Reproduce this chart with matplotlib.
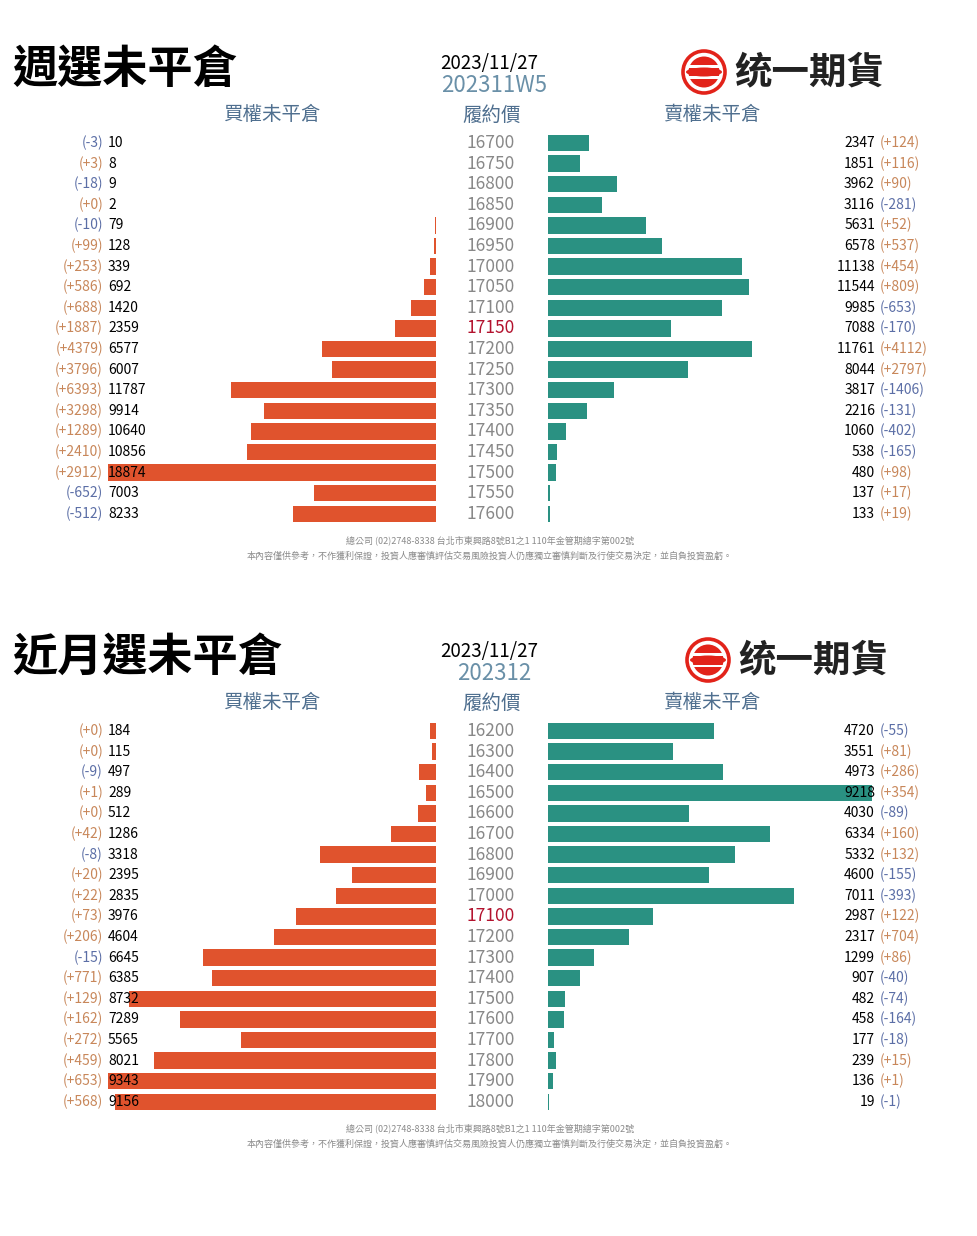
import matplotlib
matplotlib.use('Agg')
import matplotlib.pyplot as plt
import matplotlib.transforms as mtrans
from matplotlib.patches import Circle, Ellipse, Rectangle

plt.rcParams['font.family'] = ['Noto Sans CJK TC', 'DejaVu Sans']

# ---- data: weekly options ----
w_title = '週選未平倉'
w_date = '2023/11/27'
w_code = '202311W5'
w_strikes = [16700, 16750, 16800, 16850, 16900, 16950, 17000, 17050, 17100, 17150,
             17200, 17250, 17300, 17350, 17400, 17450, 17500, 17550, 17600]
w_atm = 17150
w_call_oi = [10, 8, 9, 2, 79, 128, 339, 692, 1420, 2359,
             6577, 6007, 11787, 9914, 10640, 10856, 18874, 7003, 8233]
w_call_chg = [-3, 3, -18, 0, -10, 99, 253, 586, 688, 1887,
              4379, 3796, 6393, 3298, 1289, 2410, 2912, -652, -512]
w_put_oi = [2347, 1851, 3962, 3116, 5631, 6578, 11138, 11544, 9985, 7088,
            11761, 8044, 3817, 2216, 1060, 538, 480, 137, 133]
w_put_chg = [124, 116, 90, -281, 52, 537, 454, 809, -653, -170,
             4112, 2797, -1406, -131, -402, -165, 98, 17, 19]

# ---- data: monthly options ----
m_title = '近月選未平倉'
m_date = '2023/11/27'
m_code = '202312'
m_strikes = [16200, 16300, 16400, 16500, 16600, 16700, 16800, 16900, 17000, 17100,
             17200, 17300, 17400, 17500, 17600, 17700, 17800, 17900, 18000]
m_atm = 17100
m_call_oi = [184, 115, 497, 289, 512, 1286, 3318, 2395, 2835, 3976,
             4604, 6645, 6385, 8732, 7289, 5565, 8021, 9343, 9156]
m_call_chg = [0, 0, -9, 1, 0, 42, -8, 20, 22, 73,
              206, -15, 771, 129, 162, 272, 459, 653, 568]
m_put_oi = [4720, 3551, 4973, 9218, 4030, 6334, 5332, 4600, 7011, 2987,
            2317, 1299, 907, 482, 458, 177, 239, 136, 19]
m_put_chg = [-55, 81, 286, 354, -89, 160, 132, -155, -393, 122,
             704, 86, -40, -74, -164, -18, 15, 1, -1]

W, H = 977, 1236
RED = '#e0532d'
TEAL = '#2a9182'
POS = '#c8875a'
NEG = '#5b6ea6'
HEAD = '#4f6f8f'
GRAY = '#888888'

fig = plt.figure(figsize=(W / 100, H / 100), dpi=100)
fig.patch.set_facecolor('white')


def fx(px):
    return px / W


def fy(py):
    return 1 - py / H


def sgn(v):
    return '(+%d)' % v if v >= 0 else '(%d)' % v


def logo(cx, cy):
    ax = fig.add_axes([fx(cx - 26), fy(cy + 26), fx(52), 52 / H])
    ax.set_xlim(-26, 26)
    ax.set_ylim(-26, 26)
    ax.set_aspect('equal')
    ax.axis('off')
    ax.add_patch(Circle((0, 0), 21, fc='none', ec='#e2231a', lw=2.6))
    ax.add_patch(Circle((0, 0), 15.5, fc='#e2231a', ec='none'))
    ax.add_patch(Rectangle((-17, 4.5), 34, 2.6, fc='white', ec='none'))
    ax.add_patch(Rectangle((-17, -7.1), 34, 2.6, fc='white', ec='none'))
    ax.add_patch(Ellipse((0, 0), 36, 9, fc='#e2231a', ec='none'))


def panel(off, title, date, code, strikes, atm, call_oi, call_chg, put_oi, put_chg):
    n = len(strikes)
    top = 143 + off - 10.3
    bot = 143 + off + 20.6 * (n - 1) + 10.3
    vmax = max(call_oi + put_oi)

    axl = fig.add_axes([fx(108), fy(bot), fx(436 - 108), (bot - top) / H])
    axr = fig.add_axes([fx(548), fy(bot), fx(876 - 548), (bot - top) / H])
    rows = list(range(n))
    axl.barh(rows, call_oi, height=0.8, color=RED)
    axr.barh(rows, put_oi, height=0.8, color=TEAL)
    axl.set_xlim(vmax, 0)
    axr.set_xlim(0, vmax)
    for ax in (axl, axr):
        ax.set_ylim(n - 0.5, -0.5)
        ax.axis('off')
        ax.patch.set_alpha(0)

    tr = mtrans.blended_transform_factory(fig.transFigure, axl.transData)
    for i in rows:
        fig.text(fx(108), i, str(call_oi[i]), transform=tr, ha='left', va='center',
                 fontsize=10, color='black', zorder=5)
        fig.text(fx(103), i, sgn(call_chg[i]), transform=tr, ha='right', va='center',
                 fontsize=10, color=POS if call_chg[i] >= 0 else NEG)
        fig.text(fx(491), i, str(strikes[i]), transform=tr, ha='center', va='center',
                 fontsize=12.5, color='#b3122e' if strikes[i] == atm else GRAY)
        fig.text(fx(875), i, str(put_oi[i]), transform=tr, ha='right', va='center',
                 fontsize=10, color='black', zorder=5)
        fig.text(fx(880), i, sgn(put_chg[i]), transform=tr, ha='left', va='center',
                 fontsize=10, color=POS if put_chg[i] >= 0 else NEG)

    fig.text(fx(12), fy(70 + off), title, ha='left', va='center', fontsize=32.5,
             fontweight='bold', color='black')
    fig.text(fx(489), fy(64 + off), date, ha='center', va='center', fontsize=13.5, color='black')
    fig.text(fx(494), fy(86 + off), code, ha='center', va='center', fontsize=16, color='#6a90a8')
    fig.text(fx(272), fy(115 + off), '買權未平倉', ha='center', va='center', fontsize=14, color=HEAD)
    fig.text(fx(492), fy(115 + off), '履約價', ha='center', va='center', fontsize=14, color=HEAD)
    fig.text(fx(712), fy(115 + off), '賣權未平倉', ha='center', va='center', fontsize=14, color=HEAD)

    dx = 4 if off else 0
    logo(704 + dx, 72 + off)
    fig.text(fx(734 + dx), fy(72 + off), '统一期貨', ha='left', va='center',
             fontsize=27, fontweight='heavy', color='#222222')

    fig.text(fx(490), fy(540 + off), '總公司 (02)2748-8338 台北市東興路8號B1之1 110年金管期總字第002號',
             ha='center', va='center', fontsize=6.5, color='#8a8a8a')
    fig.text(fx(490), fy(556 + off),
             '本內容僅供參考，不作獲利保證，投資人應審慎評估交易風險投資人仍應獨立審慎判斷及行使交易決定，並自負投資盈虧。',
             ha='center', va='center', fontsize=6.5, color='#8a8a8a')


panel(0, w_title, w_date, w_code, w_strikes, w_atm, w_call_oi, w_call_chg, w_put_oi, w_put_chg)
panel(588, m_title, m_date, m_code, m_strikes, m_atm, m_call_oi, m_call_chg, m_put_oi, m_put_chg)

fig.savefig('out.png', dpi=100, facecolor='white')
